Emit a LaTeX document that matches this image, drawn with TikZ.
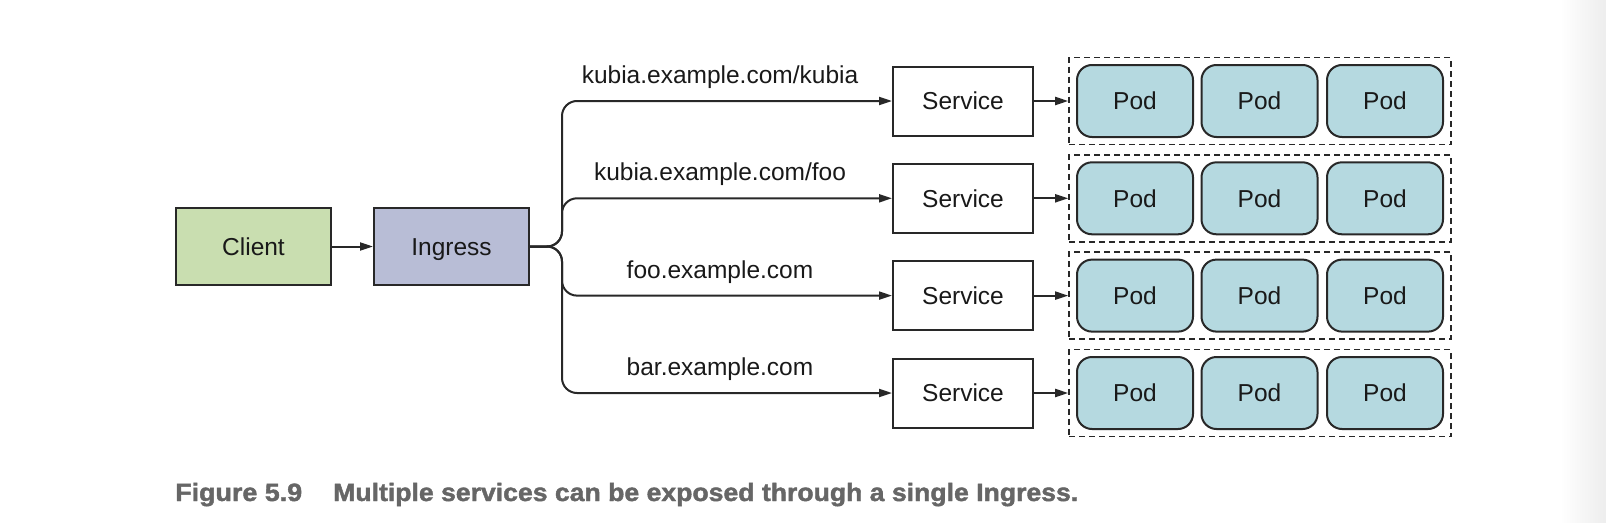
\documentclass[tikz,border=0pt]{standalone}
\usepackage{fontspec}
\setmainfont{Liberation Sans}
\newfontfamily\capfont{Liberation Sans}[BoldFeatures={FakeBold=1.6}]
\usetikzlibrary{arrows.meta}
\definecolor{clientc}{RGB}{201,222,176}
\definecolor{ingc}{RGB}{184,189,214}
\definecolor{podc}{RGB}{181,217,224}
\definecolor{edgec}{RGB}{40,40,40}
\definecolor{capc}{RGB}{102,102,102}
\tikzset{
  every node/.style={font=\fontsize{24.5}{29}\selectfont, text=black!90},
  box/.style={draw=edgec, line width=2pt, minimum width=155pt, minimum height=77pt, inner sep=0pt, text height=17.5pt, text depth=0pt},
  svcbox/.style={draw=edgec, line width=2pt, fill=white, minimum width=140pt, minimum height=69pt, inner sep=0pt, text height=17.5pt, text depth=0pt},
  podbox/.style={draw=edgec, line width=2pt, fill=podc, rounded corners=15pt, minimum width=116pt, minimum height=72pt, inner sep=0pt, text height=17.5pt, text depth=0pt},
  grpbox/.style={draw=edgec, line width=1.6pt, dash pattern=on 6pt off 4pt, minimum width=382pt, minimum height=87pt, inner sep=0pt},
  conn/.style={draw=edgec, line width=2pt, -{Triangle[length=13pt,width=8pt]}},
  lbl/.style={anchor=base, inner sep=0pt},
  captxt/.style={anchor=base west, inner sep=0pt, font=\capfont\bfseries\fontsize{25}{30}\selectfont, text=capc}
}
\begin{document}
\begin{tikzpicture}[x=1pt,y=-1pt]
\useasboundingbox (0,0) rectangle (1606,522);
\shade[left color=white, right color=black!7] (1560,0) rectangle (1606,522);

\node[box, fill=clientc] (client) at (253.5,246.5) {Client};
\node[box, fill=ingc] (ingress) at (451.5,246.5) {Ingress};
\draw[conn] (client) -- (ingress);
\coordinate (fork) at (562,246.5);

\foreach \i/\y/\lab in {1/101/{kubia.example.com/kubia},2/198.3/{kubia.example.com/foo},3/295.6/{foo.example.com},4/393/{bar.example.com}}{
  \node[svcbox] (srv\i) at (963,\y) {Service};
  \node[grpbox] (grp\i) at (1260,\y) {};
  \node[podbox] (pod\i a) at (1135,\y) {Pod};
  \node[podbox] (pod\i b) at (1259.5,\y) {Pod};
  \node[podbox] (pod\i c) at (1385,\y) {Pod};
  \draw[conn, rounded corners=15pt] (ingress.east) -- (fork) |- (srv\i.west);
  \draw[conn] (srv\i) -- (grp\i.west);
  \node[lbl] (lab\i) at (720,\y-17.5) {\lab};
}

\node[captxt] (fig) at (175,501) {\resizebox{127pt}{\height}{Figure 5.9}};
\node[captxt] (cap) at (333,501) {\resizebox{745pt}{\height}{Multiple services can be exposed through a single Ingress.}};
\end{tikzpicture}
\end{document}
